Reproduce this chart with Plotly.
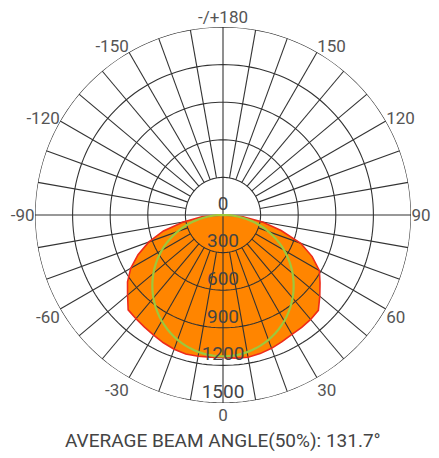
import math
import plotly.graph_objects as go

# ---- data ----
beam_theta = [-90, -85, -80, -75, -70, -65, -60, -55, -50, -45, -40, -35, -30, -25, -20, -15, -10, -5,
              0, 5, 10, 15, 20, 25, 30, 35, 40, 45, 50, 55, 60, 65, 70, 75, 80, 85, 90]
beam_cd = [0, 170, 322, 492, 629, 748, 850, 930, 994, 1070, 1080, 1092, 1107, 1125, 1140, 1149, 1144, 1138,
           1136, 1146, 1152, 1145, 1132, 1115, 1100, 1095, 1088, 1076, 1008, 945, 888, 785, 660, 480, 320, 160, 0]

ring_values = [300, 600, 900, 1200, 1500]
radial_labels = ["300", "600", "900", "1200", "1500"]
angle_tickvals = [0, 30, 60, 90, 120, 150, 180, 210, 240, 270, 300, 330]
angle_ticktext = ["0", "30", "60", "90", "120", "150", "-/+180", "-150", "-120", "-90", "-60", "-30"]
spoke_step = 10
beam_circle_diameter = 1128  # 50% beam circle (through the origin)
caption = "AVERAGE BEAM ANGLE(50%): 131.7°"

R_MAX = 1500
LABEL_OFFSET = 80  # label sits a little above each ring along the 0° axis

grid_color = "#333333"
fig = go.Figure()

# orange photometric fill
fig.add_trace(go.Scatterpolar(
    r=beam_cd, theta=beam_theta, mode="lines", fill="toself",
    fillcolor="#ff8500", line=dict(color="#ff8500", width=0),
    hoverinfo="skip", showlegend=False))

# grid rings
ring_r, ring_t = [], []
for rv in ring_values:
    for a in range(0, 361, 2):
        ring_r.append(rv)
        ring_t.append(a)
    ring_r.append(None)
    ring_t.append(None)
fig.add_trace(go.Scatterpolar(r=ring_r, theta=ring_t, mode="lines",
                              line=dict(color=grid_color, width=1.1),
                              hoverinfo="skip", showlegend=False))

# spokes
sp_r, sp_t = [], []
for a in range(0, 360, spoke_step):
    start = 0 if a % 90 == 0 else ring_values[0]
    sp_r += [start, R_MAX, None]
    sp_t += [a, a, None]
fig.add_trace(go.Scatterpolar(r=sp_r, theta=sp_t, mode="lines",
                              line=dict(color=grid_color, width=1.1),
                              hoverinfo="skip", showlegend=False))

# red outline
fig.add_trace(go.Scatterpolar(
    r=beam_cd, theta=beam_theta, mode="lines",
    line=dict(color="#ee2a1a", width=1.6),
    hoverinfo="skip", showlegend=False))

# green beam circle
circ_t = list(range(-90, 91, 2))
circ_r = [beam_circle_diameter * math.cos(math.radians(t)) for t in circ_t]
fig.add_trace(go.Scatterpolar(
    r=circ_r, theta=circ_t, mode="lines",
    line=dict(color="#9dc83c", width=2.2),
    hoverinfo="skip", showlegend=False))

# radial labels
lab_r = [LABEL_OFFSET] + [v - LABEL_OFFSET for v in ring_values]
lab_t = [180] + [0] * len(ring_values)
lab_txt = ["0"] + radial_labels
fig.add_trace(go.Scatterpolar(
    r=lab_r, theta=lab_t, mode="text", text=lab_txt,
    textfont=dict(family="Roboto", size=19, color="#444444"),
    hoverinfo="skip", showlegend=False))

fig.update_layout(
    width=439, height=458,
    margin=dict(l=35, r=28, t=27, b=55),
    paper_bgcolor="white", plot_bgcolor="white",
    polar=dict(
        bgcolor="white",
        radialaxis=dict(range=[0, R_MAX], visible=False, showgrid=False),
        angularaxis=dict(
            rotation=270, direction="counterclockwise",
            tickmode="array", tickvals=angle_tickvals, ticktext=angle_ticktext,
            showgrid=False, showline=False, ticks="",
            tickfont=dict(family="Roboto", size=17, color="#555555"),
        ),
    ),
    annotations=[dict(
        text=caption, xref="paper", yref="paper", x=0.5, y=-0.1,
        xanchor="center", yanchor="middle", showarrow=False,
        font=dict(family="Roboto", size=19, color="#444444"))],
)

fig.write_html("out.html", config={"displayModeBar": False},
               post_script="document.body.style.margin='0';document.body.style.overflow='hidden';")
